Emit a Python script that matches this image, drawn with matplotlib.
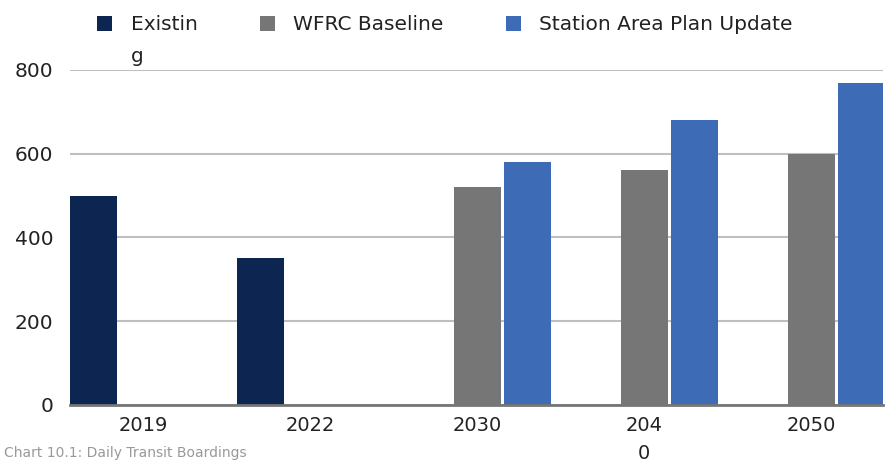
import numpy as np
import matplotlib
matplotlib.use('Agg')
import matplotlib.pyplot as plt

# chart data
years = ['2019', '2022', '2030', '204\n0', '2050']
series = ['Existin', 'WFRC Baseline', 'Station Area Plan Update']
existing = [500, 350, 0, 0, 0]
wfrc = [0, 0, 520, 560, 600]
sap_update = [0, 0, 580, 680, 770]
colors = ['#0D2651', '#767676', '#3D6BB5']

plt.rcParams['font.family'] = ['DejaVu Sans']

fig = plt.figure(figsize=(8.9, 4.62), dpi=100)
ax = fig.add_axes([0.0787, 0.1234, 0.9133, 0.7251])

x = np.arange(len(years))
w = 0.281
step = 0.299
for i, (vals, lab, c) in enumerate(zip([existing, wfrc, sap_update], series, colors)):
    ax.bar(x + (i - 1) * step, vals, width=w, color=c, label=lab, zorder=3)

ax.set_xlim(-0.44, 4.43)
ax.set_ylim(0, 800)
ax.set_yticks([0, 200, 400, 600, 800])
ax.set_xticks(x)
ax.set_xticklabels(years, fontsize=14, color='#222222', linespacing=1.6)
ax.tick_params(axis='y', labelsize=14.5, colors='#222222', length=0, pad=12)
ax.tick_params(axis='x', length=0, pad=8, colors='#222222')
ax.grid(axis='y', color='#BFBFBF', linewidth=1.5, zorder=0)
for s in ['top', 'right', 'left']:
    ax.spines[s].set_visible(False)
ax.spines['bottom'].set_color('#767676')
ax.spines['bottom'].set_linewidth(2)
ax.spines['bottom'].set_zorder(4)

leg = ax.legend(loc='upper left', bbox_to_anchor=(0.089, 1.006), bbox_transform=fig.transFigure,
                ncol=3, frameon=False, fontsize=14.5, handlelength=0.75, handleheight=0.75,
                handletextpad=0.9, columnspacing=3.1, labelcolor='#222222')
leg.set_zorder(8)
# the wrapped "g" of "Existing" in the original legend
ax.annotate('g', xy=(0, 0), xycoords=leg.get_texts()[0], xytext=(0, -9),
            textcoords='offset points', va='top', ha='left', fontsize=14.5,
            color='#222222', annotation_clip=False, zorder=10)

fig.text(0.005, 0.004, 'Chart 10.1: Daily Transit Boardings', fontsize=10,
         color='#999999', va='bottom')

fig.savefig('out.png', dpi=100)
